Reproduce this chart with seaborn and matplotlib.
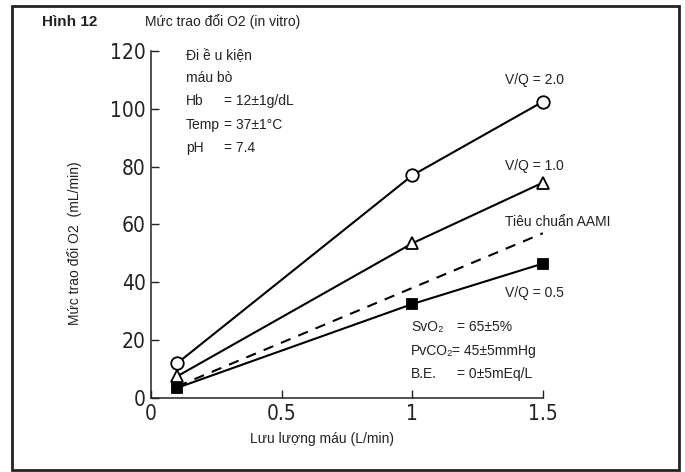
import matplotlib
matplotlib.use('Agg')
import matplotlib.pyplot as plt
import seaborn as sns
import pandas as pd
from matplotlib.patches import Rectangle

# dữ liệu
flow = [0.1, 1.0, 1.5]
vq20 = [12, 77, 102.5]
vq10 = [7.5, 53.5, 74.5]
vq05 = [3.5, 32.5, 46.5]
aami_x = [0.1, 1.5]
aami_y = [4, 57]

ticks_x = [0, 0.5, 1, 1.5]
ticks_x_lbl = ['0', '0.5', '1', '1.5']
ticks_y = [0, 20, 40, 60, 80, 100, 120]

df = pd.DataFrame({
    'flow': flow * 3,
    'o2': vq20 + vq10 + vq05,
    'series': ['V/Q = 2.0'] * 3 + ['V/Q = 1.0'] * 3 + ['V/Q = 0.5'] * 3,
})
df_aami = pd.DataFrame({'flow': aami_x, 'o2': aami_y})

W, H = 685, 472
sns.set_style('ticks')
plt.rcParams['font.family'] = ['Liberation Sans', 'DejaVu Sans']
narrow = ['Liberation Sans Narrow', 'DejaVu Sans']

fig = plt.figure(figsize=(W / 100, H / 100), dpi=100)
ax = fig.add_axes([151 / W, 1 - 398 / H, (543 - 151) / W, (398 - 51) / H])

# đường chuẩn AAMI (nét đứt)
sns.lineplot(data=df_aami, x='flow', y='o2', ax=ax, color='black', lw=1.5,
             linestyle=(0, (5, 4)))

styles = {
    'V/Q = 2.0': dict(marker='o', markersize=9, markerfacecolor='white'),
    'V/Q = 1.0': dict(marker='^', markersize=9, markerfacecolor='white'),
    'V/Q = 0.5': dict(marker='s', markersize=6.5, markerfacecolor='black'),
}
for name, st in styles.items():
    sns.lineplot(data=df[df['series'] == name], x='flow', y='o2', ax=ax,
                 color='black', lw=1.5, markeredgecolor='black',
                 markeredgewidth=1.3, clip_on=False, zorder=5, **st)

ax.set_xlim(0, 1.5)
ax.set_ylim(0, 120)
ax.set_xticks(ticks_x)
ax.set_xticklabels(ticks_x_lbl)
ax.set_yticks(ticks_y)
sns.despine(ax=ax)
ax.tick_params(direction='in', length=6, width=1, colors='#222222', labelsize=15, pad=4)
for lbl in ax.get_xticklabels() + ax.get_yticklabels():
    lbl.set_family(narrow)
    lbl.set_fontstretch('condensed')
for s in ['left', 'bottom']:
    ax.spines[s].set_linewidth(1.1)
    ax.spines[s].set_color('#222222')
ax.set_xlabel('')
ax.set_ylabel('')


def ftext(x, y, s, **kw):
    fig.text(x / W, 1 - y / H, s, va='center', color='#222222', **kw)


ftext(42, 22, 'Hình 12', fontsize=11, fontweight='bold')
ftext(145, 22, 'Mức trao đổi O2 (in vitro)', fontsize=10)

ftext(186, 56, 'Đi ề u kiện', fontsize=10)
ftext(186, 78, 'máu bò', fontsize=10)
ftext(186, 101, 'Hb', fontsize=10)
ftext(224, 101, '= 12±1g/dL', fontsize=10)
ftext(186, 125, 'Temp', fontsize=10)
ftext(224, 125, '= 37±1°C', fontsize=10)
ftext(186, 148, 'pH', fontsize=10)
ftext(224, 148, '= 7.4', fontsize=10)

ftext(505, 80, 'V/Q = 2.0', fontsize=10)
ftext(505, 166, 'V/Q = 1.0', fontsize=10)
ftext(505, 222, 'Tiêu chuẩn AAMI', fontsize=10)
ftext(505, 293, 'V/Q = 0.5', fontsize=10)

ftext(411, 327, 'SvO₂', fontsize=10)
ftext(457, 327, '= 65±5%', fontsize=10)
ftext(411, 351, 'PvCO₂', fontsize=10)
ftext(452, 351, '= 45±5mmHg', fontsize=10)
ftext(411, 374, 'B.E.', fontsize=10)
ftext(457, 374, '= 0±5mEq/L', fontsize=10)

fig.text(322 / W, 1 - 439 / H, 'Lưu lượng máu (L/min)', ha='center', va='center',
         fontsize=10, color='#222222')
fig.text(75 / W, 1 - 243 / H, 'Mức trao đổi O2  (mL/min)', ha='center', va='center',
         rotation=90, fontsize=10, color='#222222')

# khung viền ngoài
fig.patches.append(Rectangle((12 / W, 1 - 470 / H), (679 - 12) / W, (470 - 6) / H,
                             transform=fig.transFigure, fill=False,
                             edgecolor='#222222', lw=2))

fig.savefig('out.png', dpi=100)
